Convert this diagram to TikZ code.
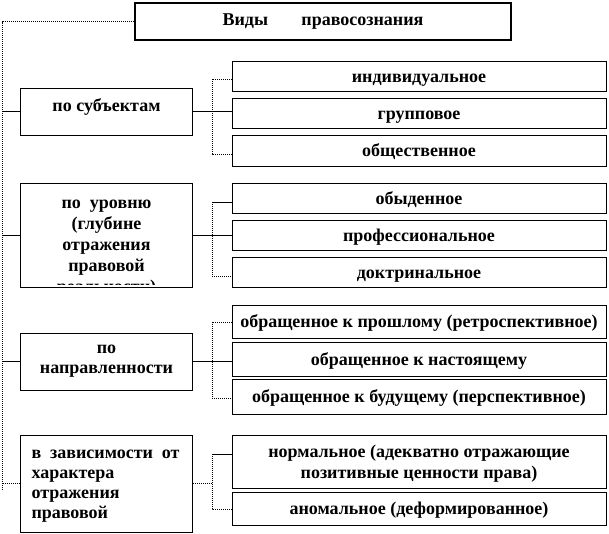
\documentclass[tikz,border=0pt]{standalone}
\usepackage{fontspec}
\setmainfont{Liberation Serif}

\begin{document}
\begin{tikzpicture}[x=1pt, y=-1pt, line width=0.8pt,
    every node/.style={font=\fontsize{18}{20}\selectfont\bfseries, inner sep=0pt},
    head/.style={draw, line width=1.8pt, minimum width=376pt, minimum height=37pt},
    kind/.style={draw, line width=0.6pt, minimum width=172pt, align=center},
    leaf/.style={draw, line width=0.6pt, minimum width=374pt, minimum height=30pt,
        text height=12pt, text depth=0pt},
    dots/.style={dash pattern=on 1pt off 1pt}]
    \def\bx{212}
    \useasboundingbox (0,0) rectangle (609,533);
    % heading
    \node[head] (top) at (323,21.5) {Виды\hspace{1.85em}правосознания};
    % kinds on the left
    \node[kind, minimum height=47pt, text height=4pt, text depth=4pt] (subj) at (106.5,111.5) {по субъектам};
    \node[kind, minimum height=104pt] (lvl) at (106.5,235) {};
    \node[kind, minimum height=57pt] (dir) at (106.5,361.5) {по\\направленности};
    \node[kind, minimum height=97pt, text width=150pt, align=left] (refl) at (106.5,483.5)
        {\rule{0pt}{14pt}\hbox to 148pt{в\hfill зависимости\hfill от}\\характера\\отражения\\правовой};
    % text of the second kind runs out of its box
    \begin{scope}
        \clip (lvl.north west) rectangle ([yshift=3pt]lvl.south east);
        \node[align=center, font=\fontsize{18}{21}\selectfont\bfseries] (lvltext) at (106.5,248.5)
            {по\ \ уровню\\(глубине\\отражения\\правовой\\реальности)};
    \end{scope}
    % leaves on the right
    \node[leaf] (ind) at (419,76) {индивидуальное};
    \node[leaf] (grp) at (419,113) {групповое};
    \node[leaf, minimum height=31pt] (soc) at (419,150.5) {общественное};
    \node[leaf] (ord) at (419,198) {обыденное};
    \node[leaf] (prof) at (419,235) {профессиональное};
    \node[leaf] (doct) at (419,272) {доктринальное};
    \node[leaf, minimum height=33pt] (past) at (419,321.5) {обращенное к прошлому (ретроспективное)};
    \node[leaf, minimum height=34pt] (pres) at (419,359) {обращенное к настоящему};
    \node[leaf, minimum height=35pt] (fut) at (419,396.5) {обращенное к будущему (перспективное)};
    \node[leaf, minimum height=53pt, text height=, text depth=, align=center,
        font=\fontsize{18}{21}\selectfont\bfseries] (norm) at (419,461.5)
        {\rule{0pt}{16pt}нормальное (адекватно отражающие\\позитивные ценности права)};
    \node[leaf, minimum height=33pt] (anom) at (419,508.5) {аномальное (деформированное)};
    % spine from the heading
    \coordinate (sp) at (2,490);
    \draw[dots] (top.west) -| (sp);
    \draw (subj.west) -- (subj.west -| sp);
    \draw (lvl.west) -- (lvl.west -| sp);
    \draw (dir.west) -- (dir.west -| sp);
    \draw[dots] (refl.west) -- (refl.west -| sp);
    % brackets to the leaves
    \coordinate (a1) at (\bx,79);
    \coordinate (a2) at (\bx,154);
    \draw (subj.east) -- (subj.east -| grp.west);
    \draw[dots] (a1 -| ind.west) -- (a1) -- (a2) -- (a2 -| soc.west);
    \coordinate (b1) at (\bx,202);
    \coordinate (b2) at (\bx,276);
    \draw (lvl.east) -- (lvl.east -| prof.west);
    \draw (b1 -| ord.west) -- (b1);
    \draw[dots] (b1) -- (b2) -- (b2 -| doct.west);
    \coordinate (c1) at (\bx,322);
    \coordinate (c2) at (\bx,398);
    \draw (dir.east) -- (dir.east -| pres.west);
    \draw[dots] (c1 -| past.west) -- (c1) -- (c2) -- (c2 -| fut.west);
    \coordinate (d1) at (\bx,454);
    \coordinate (d2) at (\bx,509);
    \draw[dots] (refl.east) -- (refl.east -| d1);
    \draw (d1 -| norm.west) -- (d1);
    \draw[dots] (d1) -- (d2) -- (d2 -| anom.west);
\end{tikzpicture}
\end{document}
